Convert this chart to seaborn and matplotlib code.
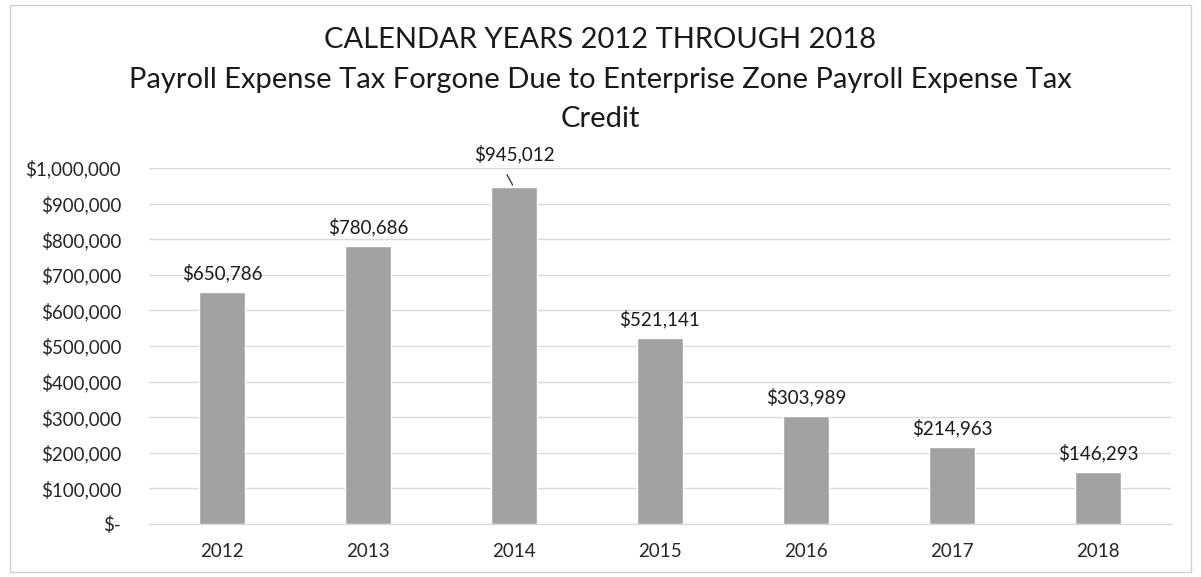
import pandas as pd
import seaborn as sns
import matplotlib.pyplot as plt
from matplotlib.patches import Rectangle
from matplotlib.ticker import FuncFormatter

years = ["2012", "2013", "2014", "2015", "2016", "2017", "2018"]
amounts = [650786, 780686, 945012, 521141, 303989, 214963, 146293]

title_lines = [
    "CALENDAR YEARS 2012 THROUGH 2018",
    "Payroll Expense Tax Forgone Due to Enterprise Zone Payroll Expense Tax",
    "Credit",
]

df = pd.DataFrame({"year": years, "amount": amounts})

sns.set_style("white")
plt.rcParams["font.family"] = ["Lato", "DejaVu Sans"]

fig = plt.figure(figsize=(12.01, 5.77), dpi=100)
ax = fig.add_axes([0.124, 0.092, 0.851, 0.617])

sns.barplot(data=df, x="year", y="amount", color="#a2a2a2", width=0.32,
            saturation=1, ax=ax)

ax.set_ylim(0, 1000000)
ax.set_yticks(range(0, 1000001, 100000))
ax.yaxis.set_major_formatter(FuncFormatter(lambda v, p: "$-" if v == 0 else f"${v:,.0f}"))
ax.grid(axis="y", color="#d9d9d9", linewidth=1)
ax.set_axisbelow(True)
for s in ax.spines.values():
    s.set_visible(False)
ax.spines["bottom"].set_visible(True)
ax.spines["bottom"].set_color("#d9d9d9")
ax.tick_params(axis="both", length=0, labelsize=13.5, colors="#262626", pad=14)
ax.tick_params(axis="y", pad=20)
ax.set_xlabel("")
ax.set_ylabel("")

# data labels above bars (the tallest one sits higher with a short leader line)
for i, v in enumerate(amounts):
    off = 17 if v > 900000 else 7
    ax.annotate(f"${v:,.0f}", (i, v), xytext=(0, off), textcoords="offset points",
                ha="center", va="bottom", fontsize=13.5, color="#1a1a1a")
    if v > 900000:
        ax.annotate("", (i, v), xytext=(-6, 11), textcoords="offset points",
                    arrowprops=dict(arrowstyle="-", color="#404040", lw=1))

for k, line in enumerate(title_lines):
    fig.text(0.5, 0.93 - k * 0.068, line, ha="center", va="center",
             fontsize=21, color="#1a1a1a")

fig.add_artist(Rectangle((0.008, 0.008), 0.984, 0.984, transform=fig.transFigure,
                         fill=False, edgecolor="#d0d0d0", linewidth=1))

fig.savefig("out.png", dpi=100)
